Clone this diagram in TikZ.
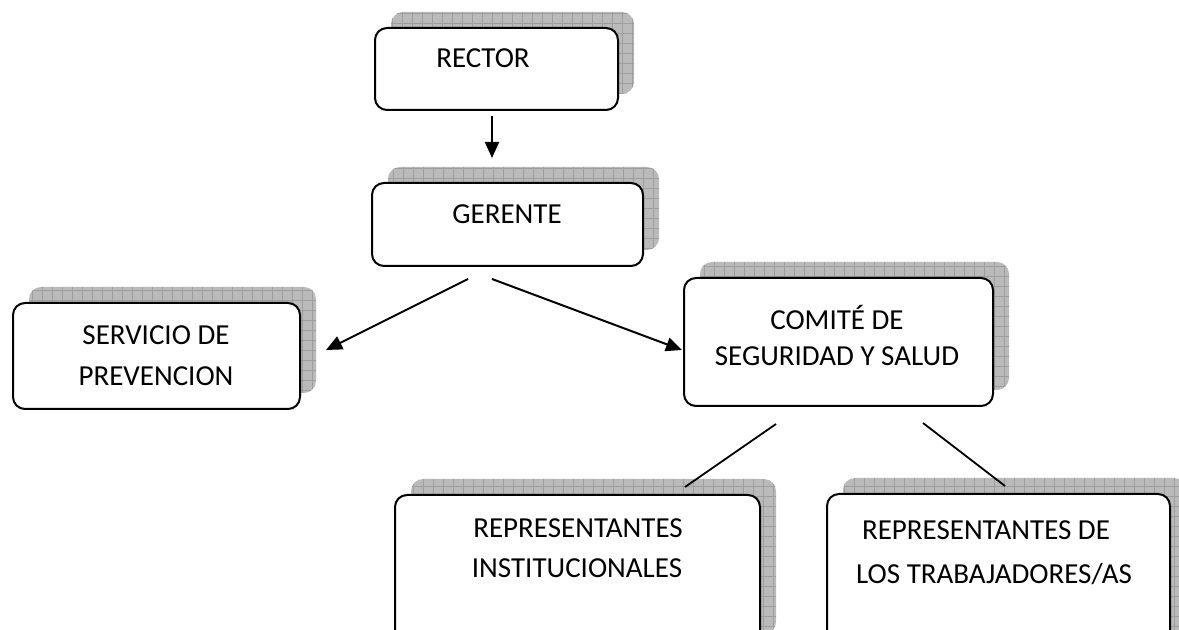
\documentclass[tikz,border=0pt]{standalone}
\usepackage{fontspec}
\setmainfont{Carlito}
\usetikzlibrary{arrows.meta,shadows}

\begin{document}
\begin{tikzpicture}[x=0.5pt, y=-0.5pt, font=\fontsize{14.5}{20}\selectfont]
%% one unit is one pixel of the drawing, y runs downwards
%% the shadows are shifted up and to the right by 16 units
\tikzstyle{arc}=[-{Triangle[length=8pt,width=7pt]},line width=1pt]
\tikzstyle{link}=[line width=0.9pt]
\tikzstyle{gridshade}=[fill=black!27, path picture={\draw[black!38,line width=0.35pt,step=5pt] (path picture bounding box.south west) grid (path picture bounding box.north east);}]
\tikzstyle{box}=[draw, line width=1pt, rounded corners=6pt, fill=white, general shadow={gridshade, shadow xshift=8pt, shadow yshift=8pt}]
\path[use as bounding box] (0,0) rectangle (1179,630);
\clip (0,0) rectangle (1179,630);
%% boxes %%
\node[box, minimum width=121.5pt, minimum height=41pt] at (496.5,69) (rector) {};
%% label for box rector
\draw (483,68) node[anchor=base] (rectorlbl) {RECTOR};
\node[box, minimum width=135.5pt, minimum height=41.5pt] at (507.5,224.5) (gerente) {};
%% label for box gerente
\draw (507,224) node[anchor=base] (gerentelbl) {GERENTE};
\node[box, minimum width=143.5pt, minimum height=53pt] at (156.5,356) (servicio) {};
%% label for box servicio
\draw (156,345) node[anchor=base] (serviciolbl) {SERVICIO DE};
\draw (156,386) node[anchor=base] (serviciolblb) {PREVENCION};
\node[box, minimum width=154.5pt, minimum height=64pt] at (838.5,342) (comite) {};
%% label for box comite
\draw (837,330) node[anchor=base] (comitelbl) {COMITÉ DE};
\draw (837,366) node[anchor=base] (comitelblb) {SEGURIDAD Y SALUD};
\node[box, minimum width=182.5pt, minimum height=77.5pt] at (577.5,572.5) (inst) {};
%% label for box inst
\draw (578,538) node[anchor=base] (instlbl) {REPRESENTANTES};
\draw (577,578) node[anchor=base] (instlblb) {INSTITUCIONALES};
\node[box, minimum width=171.5pt, minimum height=78pt] at (998.5,572) (trab) {};
%% label for box trab
\draw (986,540) node[anchor=base] (trablbl) {REPRESENTANTES DE};
\draw (994,584) node[anchor=base] (trablblb) {LOS TRABAJADORES/AS};
%% connectors %%
\draw[arc] ([shift={(-4.5,5)}]rector.south) -- ([shift={(-15.5,-24)}]gerente.north);
\draw[arc] ([shift={(-39.5,12)}]gerente.south) -- ([shift={(25,-6)}]servicio.east);
\draw[arc] ([shift={(-15.5,12)}]gerente.south) -- ([shift={(-1,8)}]comite.west);
\draw[link] ([shift={(-62.5,17)}]comite.south) -- ([shift={(107.5,-7)}]inst.north);
\draw[link] ([shift={(84.5,16)}]comite.south) -- ([shift={(6.5,-7)}]trab.north);
\end{tikzpicture}
\end{document}
